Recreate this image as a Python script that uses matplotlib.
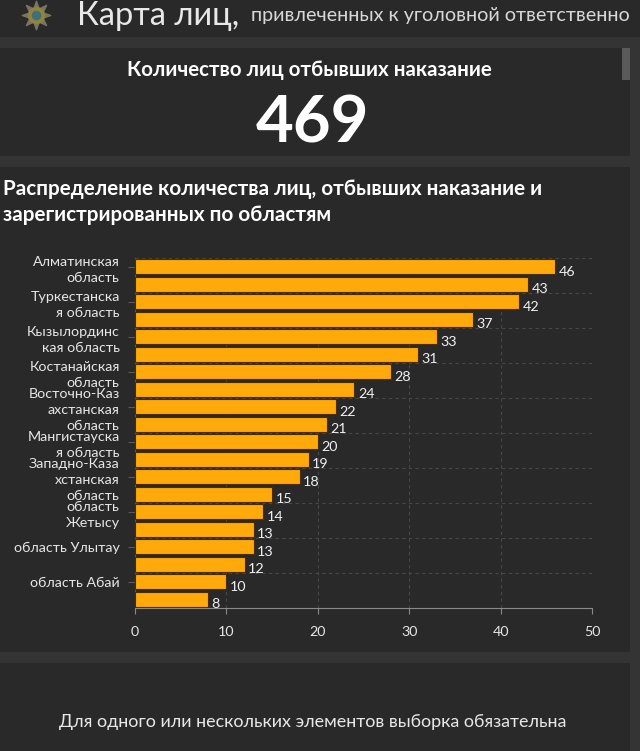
import matplotlib
matplotlib.use("Agg")
import matplotlib.pyplot as plt
from matplotlib.patches import Rectangle

plt.rcParams['font.family'] = ['Lato', 'Open Sans', 'DejaVu Sans']

values = [46, 43, 42, 37, 33, 31, 28, 24, 22, 21, 20, 19, 18, 15, 14, 13, 13, 12, 10, 8]
tick_pos = [0, 2, 4, 6, 8, 10, 12, 14, 16, 18]
tick_labels = ["Алматинская\nобласть", "Туркестанска\nя область", "Кызылординс\nкая область",
               "Костанайская\nобласть", "Восточно-Каз\nахстанская\nобласть",
               "Мангистауска\nя область", "Западно-Каза\nхстанская\nобласть",
               "область\nЖетысу", "область Улытау", "область Абай"]
x_ticks = [0, 10, 20, 30, 40, 50]

BG = "#292929"
BAND = "#343434"
W, H = 640, 751

fig = plt.figure(figsize=(6.4, 7.51), dpi=100, facecolor=BG)

# page background in pixel coordinates
bg = fig.add_axes([0, 0, 1, 1])
bg.set_xlim(0, W)
bg.set_ylim(H, 0)
bg.axis("off")
for y, h in [(37, 11), (156, 11), (652, 11)]:
    bg.add_patch(Rectangle((0, y), W, h, color=BAND, lw=0))
bg.add_patch(Rectangle((630, 37), 10, H - 37, color=BAND, lw=0))
bg.add_patch(Rectangle((622, 48), 8, 32, color="#5a5a5a", lw=0))

# emblem
bg.scatter([36], [15], s=420, marker=(8, 1, 0), color="#7a7560", zorder=2)
bg.scatter([36], [15], s=130, marker="o", color="#8f8440", zorder=3)
bg.scatter([36], [15], s=35, marker="o", color="#3f6f78", zorder=4)

bg.text(77, 25, "Карта лиц,", color="#e8e8e8", fontsize=23.5, va="baseline", ha="left")
bg.text(251, 16, "привлеченных к уголовной ответственно", color="#d8d8d8",
        fontsize=14.2, va="center", ha="left")
bg.text(309, 70, "Количество лиц отбывших наказание", color="white", fontsize=14.8,
        fontweight="bold", va="center", ha="center")
bg.text(312, 124, "469", color="white", fontsize=47, fontweight="bold", va="center", ha="center")
bg.text(3, 189, "Распределение количества лиц, отбывших наказание и", color="white",
        fontsize=14.85, fontweight="bold", va="center", ha="left")
bg.text(3, 215, "зарегистрированных по областям", color="white", fontsize=14.85,
        fontweight="bold", va="center", ha="left")
bg.text(313, 722, "Для одного или нескольких элементов выборка обязательна", color="#e8e8e8",
        fontsize=12.9, va="center", ha="center")

# bar chart
left, right, top, bottom = 135, 592, 258, 608
ax = fig.add_axes([left / W, 1 - bottom / H, (right - left) / W, (bottom - top) / H])
ax.patch.set_alpha(0)
pos = list(range(len(values)))
ax.barh(pos, values, height=0.88, color="#ffa90a", edgecolor="#4a2c00", linewidth=0.8, zorder=3)
ax.set_xlim(0, 50)
ax.set_ylim(len(values) - 0.5, -0.5)

for p, v in zip(pos, values):
    ax.annotate(str(v), (v, p), xytext=(2.5, -3.5), textcoords="offset points", color="#f0f0f0",
                fontsize=10.3, va="center", ha="left", zorder=4)

ax.set_xticks(x_ticks)
ax.set_yticks(tick_pos)
ax.set_yticklabels(tick_labels, fontsize=10.3, color="#e6e6e6", linespacing=1.45, ha="right")
ax.tick_params(axis="y", length=5, width=0.8, color="#5a5a5a", pad=6)
ax.tick_params(axis="x", length=4, width=0.8, color="#8a8a8a", labelcolor="#e6e6e6", labelsize=10.3, pad=9)

for x in x_ticks[1:]:
    ax.axvline(x, color="#484848", lw=0.8, ls=(0, (3, 3)), zorder=1)
for y in [p - 0.5 for p in tick_pos]:
    ax.axhline(y, color="#484848", lw=0.8, ls=(0, (3, 3)), zorder=1)

for s in ["top", "right"]:
    ax.spines[s].set_visible(False)
ax.spines["left"].set_color("#5a5a5a")
ax.spines["bottom"].set_color("#8a8a8a")

fig.savefig("out.png", dpi=100, facecolor=BG)
